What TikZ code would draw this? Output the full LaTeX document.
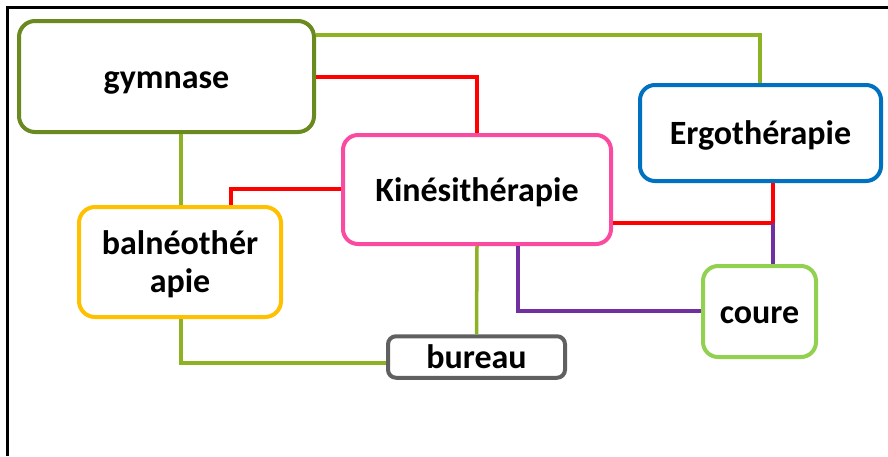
\documentclass[tikz,border=0pt]{standalone}
\usepackage{fontspec}
\setmainfont{Carlito}
\definecolor{olivebox}{RGB}{106,138,32}
\definecolor{lineg}{RGB}{141,179,37}
\definecolor{ergoblue}{RGB}{0,112,192}
\definecolor{kinepink}{RGB}{250,75,160}
\definecolor{balyellow}{RGB}{255,192,0}
\definecolor{courgreen}{RGB}{146,208,80}
\definecolor{burgray}{RGB}{96,96,96}
\definecolor{linered}{RGB}{255,0,0}
\definecolor{linepurple}{RGB}{112,48,160}
\tikzset{
  box/.style={draw, line width=4pt, fill=white, inner sep=0pt, align=center,
    font=\fontsize{34}{38}\selectfont\bfseries, text height=32.4pt, text depth=9.1pt},
  gline/.style={draw=lineg, line width=3.5pt},
  rline/.style={draw=linered, line width=3.5pt},
  pline/.style={draw=linepurple, line width=3.5pt},
}
\begin{document}
\begin{tikzpicture}[x=1pt,y=-1pt]
\useasboundingbox (0,0) rectangle (888,456);
% frame
\draw[line width=3pt] (7,456) -- (7,7) -- (888,7);
% junction coordinates
\coordinate (jgE) at (760,35);
\coordinate (jgK) at (477,77);
\coordinate (jKB) at (231,189);
\coordinate (jKE) at (773,223);
\coordinate (jKC) at (518,311);
\coordinate (jBB) at (181,363);
% nodes
\node[box, draw=olivebox, minimum width=295, minimum height=111, rounded corners=16] (gym) at (166.5,76.5) {gymnase};
\node[box, draw=ergoblue, minimum width=241, minimum height=96, rounded corners=15] (erg) at (760.5,133) {Ergothérapie};
\node[box, draw=kinepink, minimum width=268, minimum height=109, rounded corners=15] (kin) at (477,189.5) {Kinésithérapie};
\node[box, draw=balyellow, minimum width=202, minimum height=110, rounded corners=16, text height=70pt, text depth=10pt] (bal) at (180,262) {balnéothér\\apie};
\node[box, draw=courgreen, minimum width=113, minimum height=91, rounded corners=15] (cou) at (759.5,311.5) {coure};
\node[box, draw=burgray, minimum width=177, minimum height=40, rounded corners=8] (bur) at (476.5,357) {bureau};
% connectors
\draw[gline] (gym.east |- jgE) -- (jgE) -- (erg.north -| jgE);
\draw[rline] (gym.east |- jgK) -- (jgK) -- (kin.north -| jgK);
\draw[gline] (gym.south -| jBB) -- (bal.north -| jBB);
\draw[rline] (kin.west |- jKB) -- (jKB) -- (bal.north -| jKB);
\draw[rline] (kin.east |- jKE) -- (jKE) -- (erg.south -| jKE);
\draw[pline] (jKE) -- (cou.north -| jKE);
\draw[pline] (kin.south -| jKC) -- (jKC) -- (cou.west |- jKC);
\draw[gline] (kin.south) -- (bur.north);
\draw[gline] (bal.south -| jBB) -- (jBB) -- (bur.west |- jBB);
\end{tikzpicture}
\end{document}
